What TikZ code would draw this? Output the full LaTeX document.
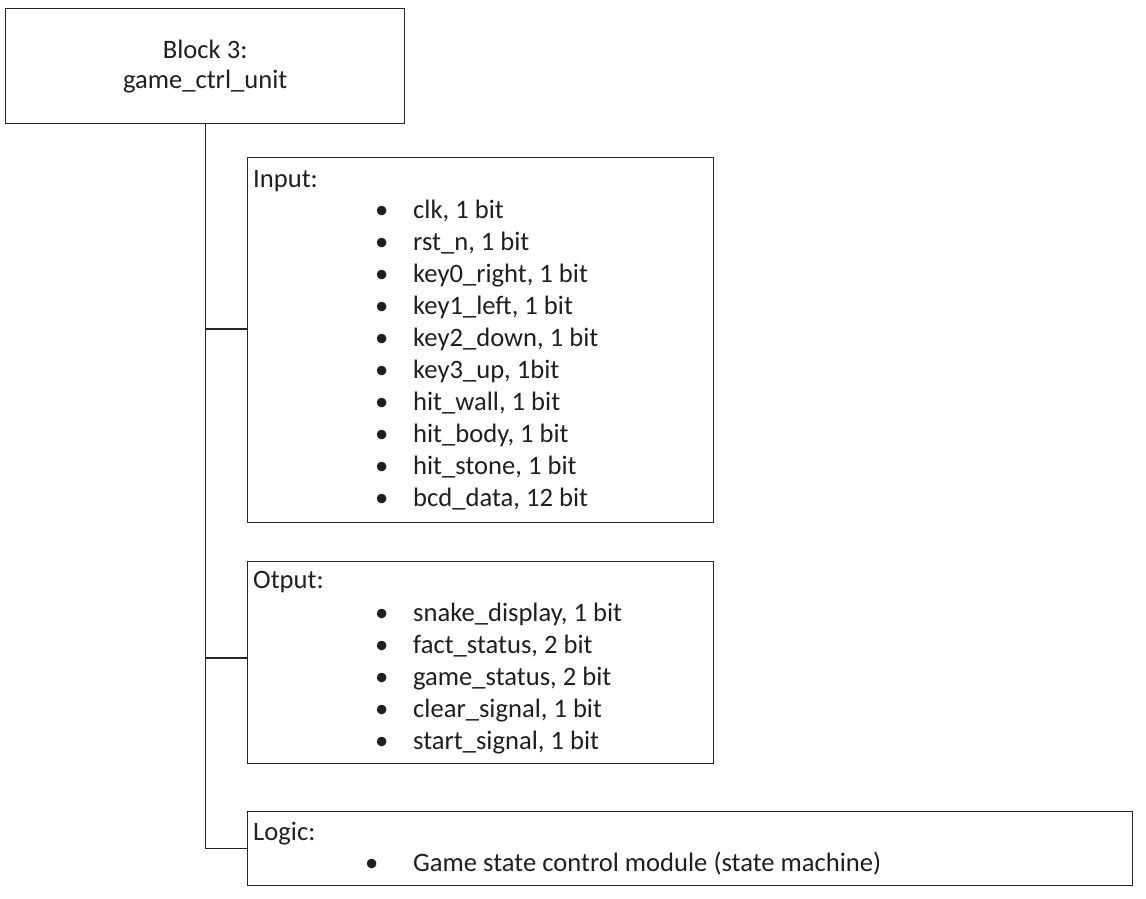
\documentclass[tikz,border=0pt]{standalone}
\usepackage{fontspec}
\setmainfont{Carlito}
\usetikzlibrary{positioning}

\newcommand{\itm}[1]{\makebox[0pt][r]{\makebox[38pt][l]{•}}#1}

\begin{document}
\begin{tikzpicture}[x=1pt,y=-1pt,
  every node/.style={font=\fontsize{26.6}{30}\selectfont, text=black!88},
  box/.style={draw=black!85, line width=1.3pt, anchor=north west, inner sep=0pt},
  txt/.style={anchor=base west, inner sep=0pt}]
  \useasboundingbox (0,0) rectangle (1146,898);

  \node [box, minimum width=399pt, minimum height=115pt, align=center] (block) at (5,8)
    {Block 3:\\game\_ctrl\_unit};

  \node [box, minimum width=466pt, minimum height=365pt] (input) at (247,157) {};
  \node [box, minimum width=466pt, minimum height=202pt] (output) at (247,561) {};
  \node [box, minimum width=885pt, minimum height=74pt] (logic) at (247,811) {};

  \node [txt] (inhead) at (253,187) {Input:};
  \node [txt] (in1) at (413,218) {\itm{clk, 1 bit}};
  \node [txt] (in2) at (413,250) {\itm{rst\_n, 1 bit}};
  \node [txt] (in3) at (413,282) {\itm{key0\_right, 1 bit}};
  \node [txt] (in4) at (413,314) {\itm{key1\_left, 1 bit}};
  \node [txt] (in5) at (413,346) {\itm{key2\_down, 1 bit}};
  \node [txt] (in6) at (413,378) {\itm{key3\_up, 1bit}};
  \node [txt] (in7) at (413,410) {\itm{hit\_wall, 1 bit}};
  \node [txt] (in8) at (413,442) {\itm{hit\_body, 1 bit}};
  \node [txt] (in9) at (413,474) {\itm{hit\_stone, 1 bit}};
  \node [txt] (in10) at (413,506) {\itm{bcd\_data, 12 bit}};

  \node [txt] (outhead) at (253,588) {Otput:};
  \node [txt] (out1) at (413,621) {\itm{snake\_display, 1 bit}};
  \node [txt] (out2) at (413,653) {\itm{fact\_status, 2 bit}};
  \node [txt] (out3) at (413,685) {\itm{game\_status, 2 bit}};
  \node [txt] (out4) at (413,717) {\itm{clear\_signal, 1 bit}};
  \node [txt] (out5) at (413,749) {\itm{start\_signal, 1 bit}};

  \node [txt] (loghead) at (253,840) {Logic:};
  \node [txt] (log1) at (413,871) {\makebox[0pt][r]{\makebox[48pt][l]{•}}Game state control module (state machine)};

  \coordinate (tapin) at (247,329);
  \coordinate (tapout) at (247,658);

  \draw [line width=1.3pt, black!85] (block.south) -- (block.south |- logic.west) -- (logic.west);
  \draw [line width=1.3pt, black!85] (block.south |- tapin) -- (tapin);
  \draw [line width=1.3pt, black!85] (block.south |- tapout) -- (tapout);

\end{tikzpicture}
\end{document}
